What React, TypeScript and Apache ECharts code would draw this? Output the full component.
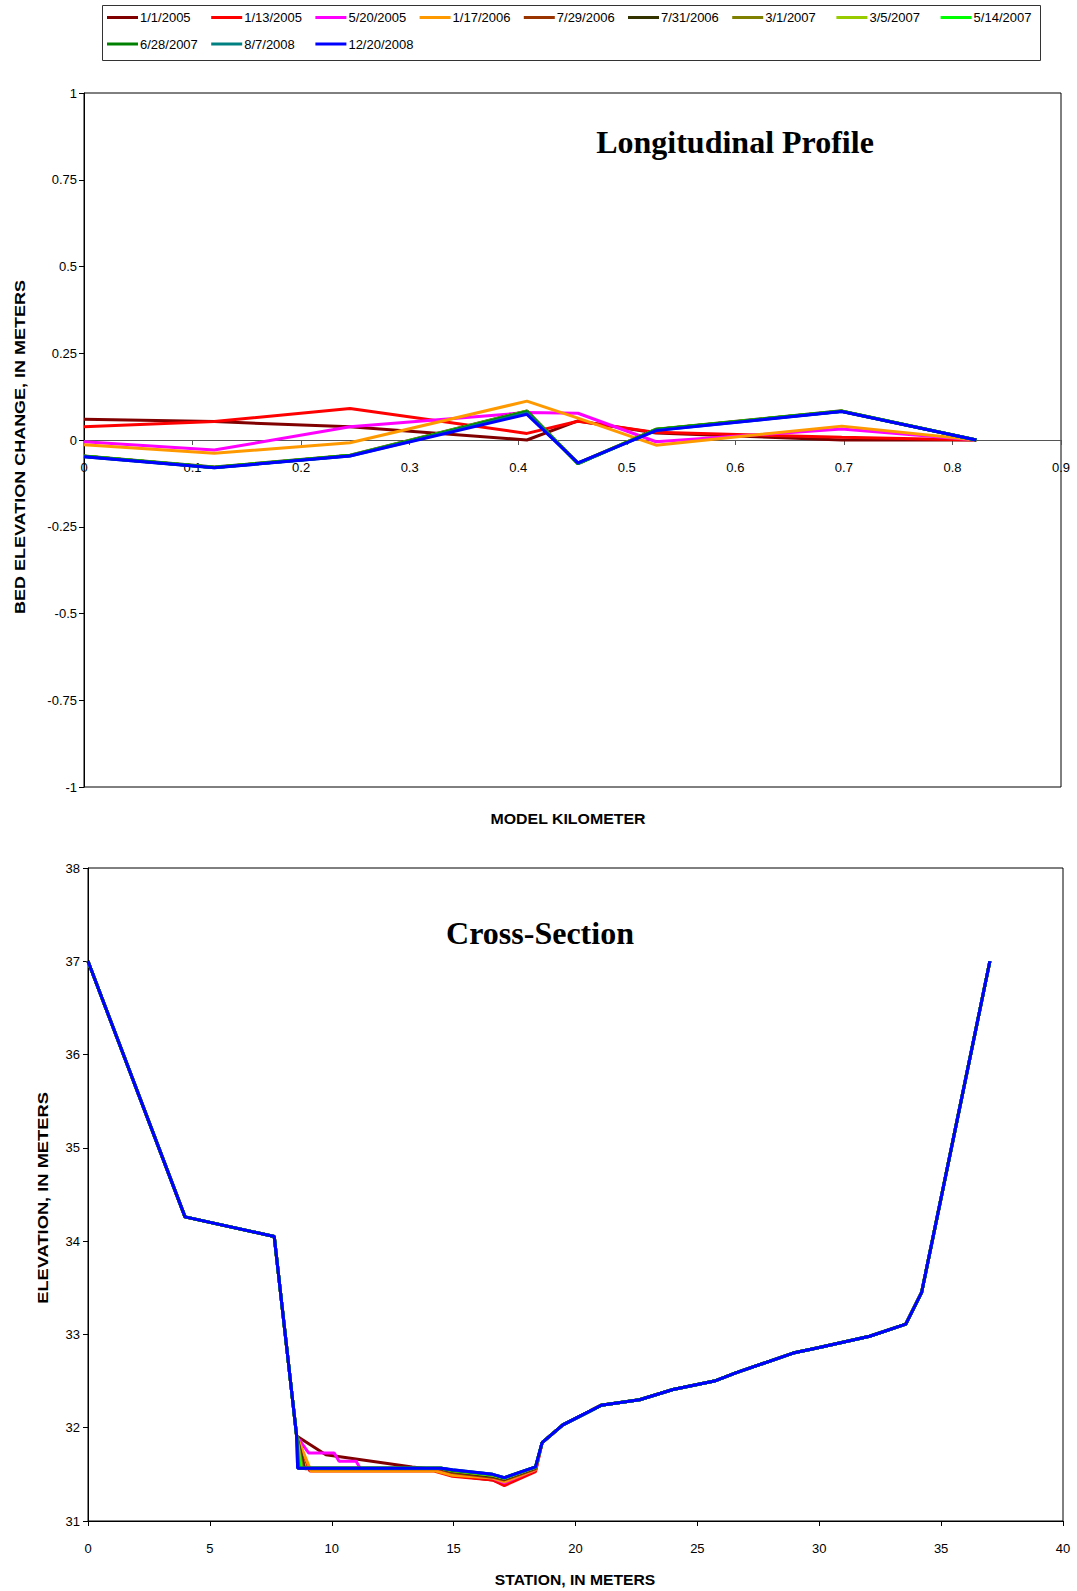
import React, { useEffect, useRef } from "react";
import * as echarts from "echarts";

// ---------- shared ----------
const SERIES_NAMES = [
  "1/1/2005", "1/13/2005", "5/20/2005", "1/17/2006", "7/29/2006", "7/31/2006",
  "3/1/2007", "3/5/2007", "5/14/2007", "6/28/2007", "8/7/2008", "12/20/2008",
];
const SERIES_COLORS = [
  "#800000", "#FF0000", "#FF00FF", "#FF9900", "#993300", "#333300",
  "#808000", "#99CC00", "#00FF00", "#008000", "#008080", "#0000FF",
];

// ---------- longitudinal profile ----------
const MODEL_KM = [0, 0.12, 0.245, 0.408, 0.455, 0.527, 0.698, 0.822];
const LP_20050101 = [0.06, 0.053, 0.038, 0.0, 0.055, 0.02, 0.0, 0.0];
const LP_20050113 = [0.038, 0.053, 0.091, 0.019, 0.054, 0.022, 0.008, 0.0];
const LP_20050520 = [-0.005, -0.029, 0.038, 0.079, 0.077, -0.005, 0.032, 0.0];
const LP_20060117 = [-0.014, -0.038, -0.008, 0.112, 0.063, -0.015, 0.04, 0.0];
const LP_20060729 = [-0.047, -0.079, -0.045, 0.082, -0.067, 0.03, 0.083, 0.0];
const LP_20060731 = [-0.046, -0.078, -0.044, 0.084, -0.068, 0.031, 0.084, 0.0];
const LP_20070301 = [-0.047, -0.079, -0.045, 0.083, -0.067, 0.03, 0.083, 0.0];
const LP_20070305 = [-0.047, -0.079, -0.045, 0.083, -0.067, 0.03, 0.083, 0.0];
const LP_20070514 = [-0.047, -0.079, -0.045, 0.082, -0.068, 0.03, 0.083, 0.0];
const LP_20070628 = [-0.047, -0.079, -0.045, 0.082, -0.068, 0.03, 0.083, 0.0];
const LP_20080807 = [-0.048, -0.08, -0.046, 0.078, -0.067, 0.028, 0.082, 0.0];
const LP_20081220 = [-0.048, -0.08, -0.046, 0.074, -0.066, 0.027, 0.082, 0.0];
const LP_VALUES = [
  LP_20050101, LP_20050113, LP_20050520, LP_20060117, LP_20060729, LP_20060731,
  LP_20070301, LP_20070305, LP_20070514, LP_20070628, LP_20080807, LP_20081220,
];
const LP_Y_TICKS = [-1, -0.75, -0.5, -0.25, 0, 0.25, 0.5, 0.75, 1];
const LP_X_TICKS = [0, 0.1, 0.2, 0.3, 0.4, 0.5, 0.6, 0.7, 0.8, 0.9];

// ---------- cross-section ----------
const XS_LEFT_STA = [0, 3.98, 7.64];
const XS_LEFT_ELV = [37, 34.26, 34.05];
const XS_RIGHT_STA = [18.63, 19.48, 21.05, 22.63, 24.0, 25.7, 26.6, 28.93, 30.0, 32.07, 33.55, 34.2, 37.0];
const XS_RIGHT_ELV = [31.84, 32.03, 32.24, 32.3, 32.41, 32.5, 32.59, 32.8, 32.86, 32.98, 33.11, 33.45, 37.0];

const XS_STA_20050101 = [8.56, 9.76, 13.3, 14.3, 14.95, 16.6, 17.08, 18.36];
const XS_ELV_20050101 = [31.91, 31.71, 31.58, 31.55, 31.49, 31.44, 31.39, 31.54];
const XS_STA_20050113 = [8.56, 9.1, 14.2, 14.95, 16.6, 17.08, 18.36];
const XS_ELV_20050113 = [31.91, 31.535, 31.535, 31.48, 31.44, 31.38, 31.53];
const XS_STA_20050520 = [8.56, 9.05, 10.1, 10.3, 11.0, 11.2, 14.3, 14.95, 16.6, 17.08, 18.36];
const XS_ELV_20050520 = [31.91, 31.73, 31.73, 31.64, 31.64, 31.55, 31.55, 31.5, 31.46, 31.41, 31.55];
const XS_STA_20060117 = [8.56, 9.15, 14.28, 14.95, 16.6, 17.08, 18.36];
const XS_ELV_20060117 = [31.91, 31.535, 31.535, 31.49, 31.46, 31.42, 31.55];
const XS_STA_20060729 = [8.56, 8.9, 14.4, 14.95, 16.6, 17.08, 18.36];
const XS_ELV_20060729 = [31.91, 31.56, 31.56, 31.52, 31.47, 31.44, 31.56];
const XS_STA_20060731 = [8.56, 8.87, 14.45, 14.95, 16.6, 17.08, 18.36];
const XS_ELV_20060731 = [31.91, 31.565, 31.565, 31.53, 31.48, 31.45, 31.57];
const XS_STA_20070301 = [8.56, 8.8, 14.5, 14.95, 16.6, 17.08, 18.36];
const XS_ELV_20070301 = [31.91, 31.565, 31.565, 31.535, 31.49, 31.455, 31.575];
const XS_STA_20070305 = [8.56, 8.75, 14.5, 14.95, 16.6, 17.08, 18.36];
const XS_ELV_20070305 = [31.91, 31.565, 31.565, 31.54, 31.49, 31.46, 31.575];
const XS_STA_20070514 = [8.56, 8.7, 14.5, 14.95, 16.6, 17.08, 18.36];
const XS_ELV_20070514 = [31.91, 31.565, 31.565, 31.545, 31.495, 31.46, 31.58];
const XS_STA_20070628 = [8.56, 8.65, 14.5, 14.95, 16.6, 17.08, 18.36];
const XS_ELV_20070628 = [31.91, 31.565, 31.565, 31.545, 31.5, 31.465, 31.58];
const XS_STA_20080807 = [8.56, 8.6, 14.5, 14.95, 16.6, 17.08, 18.36];
const XS_ELV_20080807 = [31.91, 31.565, 31.565, 31.55, 31.5, 31.465, 31.58];
const XS_STA_20081220 = [8.56, 8.6, 14.5, 14.95, 16.6, 17.08, 18.36];
const XS_ELV_20081220 = [31.91, 31.565, 31.565, 31.55, 31.5, 31.464, 31.58];

const XS_STA = [
  XS_STA_20050101, XS_STA_20050113, XS_STA_20050520, XS_STA_20060117, XS_STA_20060729, XS_STA_20060731,
  XS_STA_20070301, XS_STA_20070305, XS_STA_20070514, XS_STA_20070628, XS_STA_20080807, XS_STA_20081220,
];
const XS_ELV = [
  XS_ELV_20050101, XS_ELV_20050113, XS_ELV_20050520, XS_ELV_20060117, XS_ELV_20060729, XS_ELV_20060731,
  XS_ELV_20070301, XS_ELV_20070305, XS_ELV_20070514, XS_ELV_20070628, XS_ELV_20080807, XS_ELV_20081220,
];

const SANS = "'Liberation Sans', Arial, sans-serif";
const SERIF = "'Liberation Serif', 'Times New Roman', serif";

const TOP_GRID = { left: 84, top: 93, width: 977, height: 694 };
const BOTTOM_GRID = { left: 88, top: 868, width: 975, height: 653 };

function buildOption() {
  const lpSeries = LP_VALUES.map((vals, i) => ({
    type: "line",
    name: SERIES_NAMES[i],
    xAxisIndex: 0,
    yAxisIndex: 0,
    data: MODEL_KM.map((x, j) => [x, vals[j]]),
    symbol: "none",
    showSymbol: false,
    silent: true,
    color: SERIES_COLORS[i],
    lineStyle: { color: SERIES_COLORS[i], width: 3 },
  }));

  const xsSeries = XS_STA.map((sta, i) => {
    const s = [...XS_LEFT_STA, ...sta, ...XS_RIGHT_STA];
    const e = [...XS_LEFT_ELV, ...XS_ELV[i], ...XS_RIGHT_ELV];
    return {
      type: "line",
      name: SERIES_NAMES[i],
      xAxisIndex: 1,
      yAxisIndex: 1,
      data: s.map((x, j) => [x, e[j]]),
      symbol: "none",
      showSymbol: false,
      silent: true,
      color: SERIES_COLORS[i],
      lineStyle: { color: SERIES_COLORS[i], width: 3 },
    };
  });

  const legendItems: any[] = [];
  SERIES_NAMES.forEach((name, i) => {
    const col = i % 9;
    const row = Math.floor(i / 9);
    const x0 = 107 + col * 104.2;
    const y0 = row === 0 ? 17.5 : 44;
    legendItems.push({
      type: "line",
      shape: { x1: x0, y1: y0, x2: x0 + 31, y2: y0 },
      style: { stroke: SERIES_COLORS[i], lineWidth: 3 },
      silent: true,
    });
    legendItems.push({
      type: "text",
      x: x0 + 33,
      y: y0,
      style: {
        text: name,
        fill: "#000",
        font: `13px ${SANS}`,
        textAlign: "left",
        textVerticalAlign: "middle",
      },
      silent: true,
    });
  });

  const axisLabelStyle = { color: "#000", fontSize: 13, fontFamily: SANS };
  // distance from the grid bottom to the zero line of the top chart
  const zeroOffset = -TOP_GRID.height * (0 - LP_Y_TICKS[0]) / (LP_Y_TICKS[LP_Y_TICKS.length - 1] - LP_Y_TICKS[0]);

  return {
    animation: false,
    backgroundColor: "#fff",
    grid: [
      { ...TOP_GRID, show: true, borderColor: "#000", borderWidth: 1, backgroundColor: "transparent" },
      { ...BOTTOM_GRID, show: true, borderColor: "#000", borderWidth: 1, backgroundColor: "transparent" },
    ],
    xAxis: [
      {
        type: "value",
        gridIndex: 0,
        position: "bottom",
        offset: zeroOffset,
        min: LP_X_TICKS[0],
        max: LP_X_TICKS[LP_X_TICKS.length - 1],
        interval: 0.1,
        axisLine: { show: true, onZero: false, lineStyle: { color: "#555", width: 1 } },
        axisTick: { show: true, length: 5, lineStyle: { color: "#555" } },
        axisLabel: { ...axisLabelStyle, margin: 21, formatter: (v: number) => String(Math.round(v * 10) / 10) },
        splitLine: { show: false },
      },
      {
        type: "value",
        gridIndex: 1,
        min: 0,
        max: 40,
        interval: 5,
        axisLine: { show: true, onZero: false, lineStyle: { color: "#000", width: 1 } },
        axisTick: { show: true, length: 5, lineStyle: { color: "#000" } },
        axisLabel: { ...axisLabelStyle, margin: 21 },
        splitLine: { show: false },
      },
    ],
    yAxis: [
      {
        type: "value",
        gridIndex: 0,
        min: LP_Y_TICKS[0],
        max: LP_Y_TICKS[LP_Y_TICKS.length - 1],
        interval: 0.25,
        axisLine: { show: true, onZero: false, lineStyle: { color: "#000", width: 1 } },
        axisTick: { show: true, length: 5, lineStyle: { color: "#000" } },
        axisLabel: { ...axisLabelStyle, margin: 7 },
        splitLine: { show: false },
      },
      {
        type: "value",
        gridIndex: 1,
        min: 31,
        max: 38,
        interval: 1,
        axisLine: { show: true, onZero: false, lineStyle: { color: "#000", width: 1 } },
        axisTick: { show: true, length: 5, lineStyle: { color: "#000" } },
        axisLabel: { ...axisLabelStyle, margin: 8 },
        splitLine: { show: false },
      },
    ],
    series: [...lpSeries, ...xsSeries],
    graphic: [
      {
        type: "rect",
        shape: { x: 102.5, y: 5.5, width: 938, height: 55 },
        style: { fill: "#fff", stroke: "#333", lineWidth: 1 },
        silent: true,
      },
      ...legendItems,
      {
        type: "text",
        x: 735,
        y: 142,
        style: { text: "Longitudinal Profile", fill: "#000", font: `bold 32px ${SERIF}`, textAlign: "center", textVerticalAlign: "middle" },
        silent: true,
      },
      {
        type: "text",
        x: 540,
        y: 933,
        style: { text: "Cross-Section", fill: "#000", font: `bold 32px ${SERIF}`, textAlign: "center", textVerticalAlign: "middle" },
        silent: true,
      },
      {
        type: "text",
        x: 20,
        y: 447,
        rotation: Math.PI / 2,
        scaleX: 1.2,
        style: { text: "BED ELEVATION CHANGE, IN METERS", fill: "#000", font: `bold 15px ${SANS}`, textAlign: "center", textVerticalAlign: "middle" },
        silent: true,
      },
      {
        type: "text",
        x: 568,
        y: 819,
        scaleX: 1.06,
        style: { text: "MODEL KILOMETER", fill: "#000", font: `bold 15px ${SANS}`, textAlign: "center", textVerticalAlign: "middle" },
        silent: true,
      },
      {
        type: "text",
        x: 43,
        y: 1198,
        rotation: Math.PI / 2,
        scaleX: 1.22,
        style: { text: "ELEVATION, IN METERS", fill: "#000", font: `bold 15px ${SANS}`, textAlign: "center", textVerticalAlign: "middle" },
        silent: true,
      },
      {
        type: "text",
        x: 575,
        y: 1580,
        scaleX: 1.045,
        style: { text: "STATION, IN METERS", fill: "#000", font: `bold 15px ${SANS}`, textAlign: "center", textVerticalAlign: "middle" },
        silent: true,
      },
    ],
  };
}

export default function App() {
  const ref = useRef<HTMLDivElement>(null);
  useEffect(() => {
    if (!ref.current) return;
    const chart = echarts.init(ref.current, null, { renderer: "svg" });
    chart.setOption(buildOption() as any);
    return () => chart.dispose();
  }, []);
  return (
    <div
      ref={ref}
      style={{ position: "absolute", left: 0, top: 0, width: 1077, height: 1591, background: "#fff" }}
    />
  );
}
